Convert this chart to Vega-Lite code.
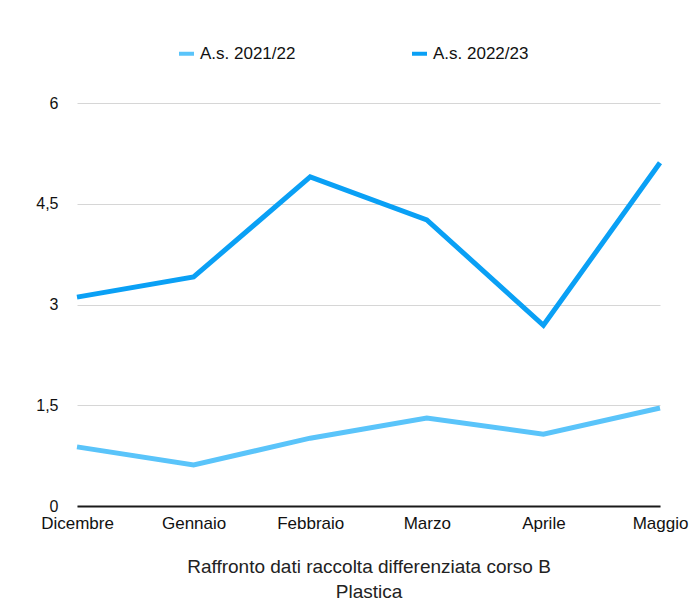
{
  "$schema": "https://vega.github.io/schema/vega-lite/v6.json",
  "width": 583,
  "height": 403,
  "autosize": {"type": "none"},
  "padding": {"left": 77, "top": 103, "right": 30, "bottom": 101},
  "background": "white",
  "config": {
    "font": "Liberation Sans",
    "view": {"stroke": null}
  },
  "data": {
    "values": [
      {"mese": "Dicembre", "anno": "A.s. 2021/22", "valore": 0.88},
      {"mese": "Gennaio", "anno": "A.s. 2021/22", "valore": 0.61},
      {"mese": "Febbraio", "anno": "A.s. 2021/22", "valore": 1.01},
      {"mese": "Marzo", "anno": "A.s. 2021/22", "valore": 1.31},
      {"mese": "Aprile", "anno": "A.s. 2021/22", "valore": 1.07},
      {"mese": "Maggio", "anno": "A.s. 2021/22", "valore": 1.46},
      {"mese": "Dicembre", "anno": "A.s. 2022/23", "valore": 3.11},
      {"mese": "Gennaio", "anno": "A.s. 2022/23", "valore": 3.41},
      {"mese": "Febbraio", "anno": "A.s. 2022/23", "valore": 4.9},
      {"mese": "Marzo", "anno": "A.s. 2022/23", "valore": 4.26},
      {"mese": "Aprile", "anno": "A.s. 2022/23", "valore": 2.69},
      {"mese": "Maggio", "anno": "A.s. 2022/23", "valore": 5.11}
    ]
  },
  "mark": {"type": "line", "strokeWidth": 5, "strokeJoin": "miter", "strokeCap": "butt"},
  "encoding": {
    "x": {
      "field": "mese",
      "type": "ordinal",
      "sort": ["Dicembre", "Gennaio", "Febbraio", "Marzo", "Aprile", "Maggio"],
      "scale": {"type": "point", "padding": 0},
      "axis": {
        "labelAngle": 0,
        "ticks": false,
        "domainColor": "#1a1a1a",
        "domainWidth": 2,
        "labelFontSize": 17,
        "labelColor": "#111",
        "labelPadding": 9,
        "title": ["Raffronto dati raccolta differenziata corso B", "Plastica"],
        "titleFontSize": 19,
        "titleFontWeight": "normal",
        "titleColor": "#222",
        "titleLineHeight": 25,
        "titlePadding": 26
      }
    },
    "y": {
      "field": "valore",
      "type": "quantitative",
      "scale": {"domain": [0, 6], "nice": false},
      "axis": {
        "values": [0, 1.5, 3, 4.5, 6],
        "labelExpr": "replace(format(datum.value, '~g'), '.', ',')",
        "domain": false,
        "ticks": false,
        "gridColor": "#d6d6d6",
        "gridWidth": 1,
        "labelFontSize": 16,
        "labelColor": "#111",
        "labelPadding": 19,
        "title": null
      }
    },
    "color": {
      "field": "anno",
      "type": "nominal",
      "scale": {"domain": ["A.s. 2021/22", "A.s. 2022/23"], "range": ["#5AC4FA", "#0AA0F5"]},
      "legend": {
        "title": null,
        "orient": "none",
        "direction": "horizontal",
        "legendX": 100,
        "legendY": -59,
        "symbolType": "stroke",
        "symbolSize": 225,
        "symbolStrokeWidth": 4,
        "labelFontSize": 17,
        "labelColor": "#111",
        "labelOffset": 4,
        "columnPadding": 108
      }
    }
  }
}
